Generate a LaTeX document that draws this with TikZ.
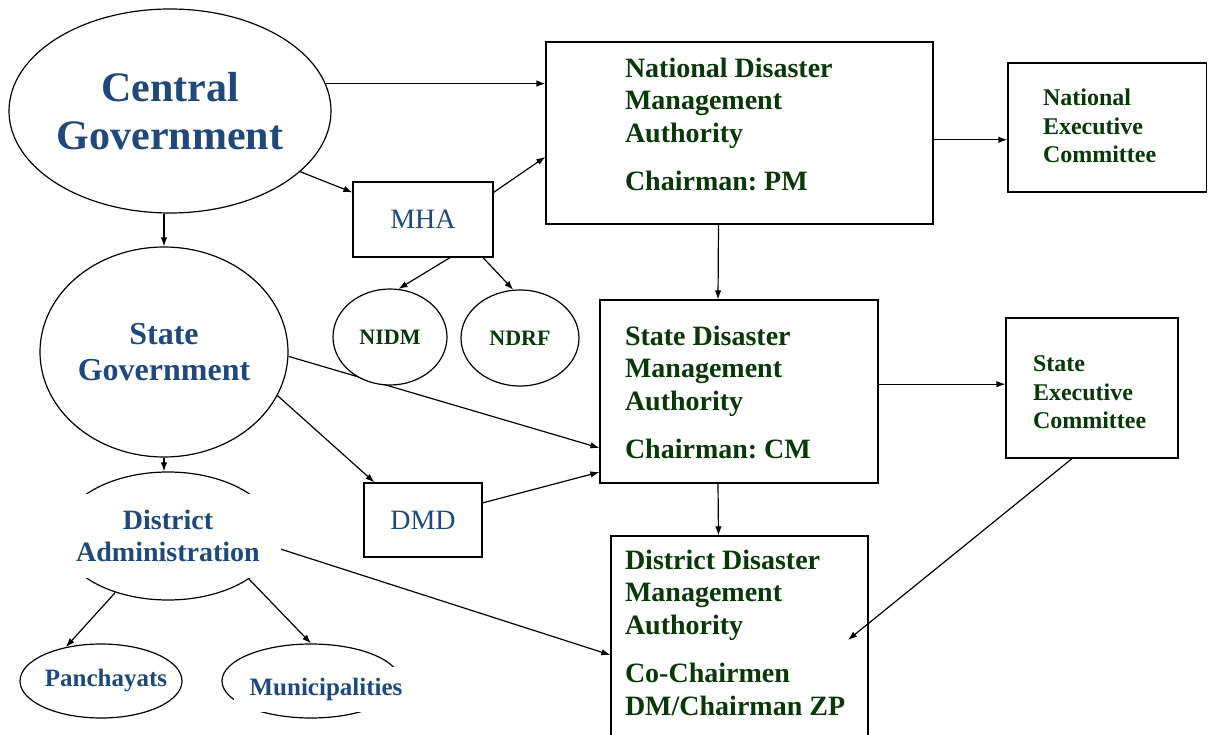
\documentclass[tikz,border=0pt]{standalone}
\usepackage{fontspec}
\setmainfont{Liberation Serif}
\usepackage{tikz}
\usetikzlibrary{shapes,arrows.meta,positioning,backgrounds}
\definecolor{govblue}{RGB}{31,73,125}
\definecolor{dmgreen}{RGB}{8,56,8}
\frenchspacing

\begin{document}
\begin{tikzpicture}[x=1pt, y=-1pt, line width=1.2pt,
    link/.style={-{Latex[length=9pt,width=6.5pt]}, line width=1.2pt},
    gov/.style={ellipse, draw, fill=white, inner sep=0pt, align=center, text=govblue},
    oval/.style={ellipse, draw, fill=white, inner sep=0pt},
    cover/.style={fill=white, inner sep=0pt, align=center, text=govblue},
    authbox/.style={draw, fill=white},
    authtext/.style={inner sep=0pt, align=left, text=dmgreen, font=\fontsize{28}{32.5}\selectfont\bfseries},
    exectext/.style={inner sep=0pt, align=left, text=dmgreen, font=\fontsize{24}{28.5}\selectfont\bfseries},
    dept/.style={draw, fill=white, text=govblue, font=\fontsize{28}{32}\selectfont},
    unit/.style={ellipse, draw, fill=white, inner sep=0pt, text=dmgreen, font=\fontsize{22}{26}\selectfont\bfseries}]
    \path[use as bounding box, clip] (0,0) rectangle (1208,735);

    % Governments
    \node[gov, minimum width=322, minimum height=204, font=\fontsize{42}{48}\selectfont\bfseries] (cg) at (170,111) {Central\\Government};
    \node[gov, minimum width=248, minimum height=210, font=\fontsize{32}{36}\selectfont\bfseries] (sg) at (164,352) {State\\Government};

    % District level
    \node[oval, minimum width=216, minimum height=128] (da) at (168,536) {};
    \node[cover, minimum width=225, minimum height=84, font=\fontsize{28}{32}\selectfont\bfseries] (datext) at (da.center) {District\\Administration};
    \node[oval, minimum width=162, minimum height=74] (pan) at (101,681) {};
    \node[text=govblue, inner sep=0pt, font=\fontsize{25}{30}\selectfont\bfseries] (pantext) at ([xshift=5pt]pan.center) {Panchayats};
    \node[oval, minimum width=178, minimum height=74] (muni) at (311,681) {};
    \node[cover, minimum width=185, minimum height=45, font=\fontsize{25}{30}\selectfont\bfseries] (munitext) at (326,689) {Municipalities};

    % Ministry and agencies
    \node[dept, minimum width=140, minimum height=75] (mha) at (423,219.5) {MHA};
    \node[unit, minimum width=114, minimum height=96] (nidm) at (390,337) {NIDM};
    \node[unit, minimum width=118, minimum height=96] (ndrf) at (520,338) {NDRF};
    \node[dept, minimum width=118, minimum height=74] (dmd) at (423,520) {DMD};

    % Authorities
    \node[authbox, minimum width=387, minimum height=182] (ndma) at (739.5,133) {};
    \node[authtext, below right=16pt and 79pt of ndma.north west] (ndmatext) {National Disaster\\Management\\Authority\\[16pt]Chairman: PM};
    \node[authbox, minimum width=278, minimum height=183] (sdma) at (739,391.5) {};
    \node[authtext, below right=26pt and 25pt of sdma.north west] (sdmatext) {State Disaster\\Management\\Authority\\[16pt]Chairman: CM};
    \node[authbox, minimum width=257, minimum height=210] (ddma) at (739.5,641) {};
    \node[authtext, below right=14pt and 14pt of ddma.north west] (ddmatext) {District Disaster\\Management\\Authority\\[16pt]Co-Chairmen\\DM/Chairman ZP};
    \coordinate (ddmatip) at (848,640);

    % Executive committees
    \node[authbox, minimum width=198.5, minimum height=129] (nec) at (1107.25,127.5) {};
    \node[exectext, below right=26pt and 35pt of nec.north west] (nectext) {National\\Executive\\Committee};
    \node[authbox, minimum width=172, minimum height=140] (sec) at (1092,388) {};
    \node[exectext, below right=38pt and 27pt of sec.north west] (sectext) {State\\Executive\\Committee};

    % Connectors
    \begin{scope}[on background layer]
    \draw[link] (cg.10) -- (cg.10 -| ndma.west);
    \draw[link] (cg.-25) -- (mha.159);
    \draw[link] (mha.21) -- (ndma.187);
    \draw[link] (sg.north |- cg.south) -- (sg.north);
    \draw[link] ([xshift=27pt]mha.south) -- (nidm.80);
    \draw[link] ([xshift=60pt]mha.south) -- (ndrf.98);
    \draw[link] ([xshift=-21pt]ndma.south) -- ([xshift=-21pt]sdma.north);
    \draw[link] (ndma.-2) -- (ndma.-2 -| nec.west);
    \draw[link] (sg.-2) -- (sdma.-158);
    \draw[link] (sg.-21) -- ([xshift=11pt]dmd.north west);
    \draw[link] (dmd.16) -- (sdma.-150);
    \draw[link] (sdma.3) -- (sdma.3 -| sec.west);
    \draw[link] ([xshift=-21pt]sdma.south) -- ([xshift=-21pt]ddma.north);
    \draw[link] (sg.south) -- (sg.south |- da.north);
    \draw[link] (da.-6) -- ([yshift=-14pt]ddma.west);
    \draw[link] (da.-133) -- (pan.136);
    \draw[link] (da.-28) -- (muni.north);
    \end{scope}
    % this one ends inside the district box
    \draw[link] ([xshift=-20pt]sec.south) -- (ddmatip);
\end{tikzpicture}
\end{document}
